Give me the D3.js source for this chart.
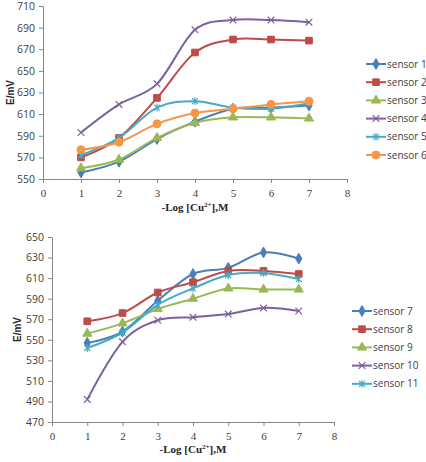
<!DOCTYPE html>
<meta charset="utf-8">
<script src="https://d3js.org/d3.v7.min.js"></script>
<style>
  body { margin: 0; background: #fff; }
  .tick text { fill: #404040; }
</style>
<body>
<div id="chart"></div>
</body>
<script>

  // data
  var xs = [1, 2, 3, 4, 5, 6, 7];

  var topNames = ["sensor 1", "sensor 2", "sensor 3", "sensor 4", "sensor 5", "sensor 6"];
  var sensor1 = [556, 566, 587, 603, 615, 616, 618];
  var sensor2 = [570, 588, 625, 667, 679, 679, 678];
  var sensor3 = [560, 568, 588, 602, 607, 607, 606];
  var sensor4 = [593, 619, 638, 688, 697, 697, 695];
  var sensor5 = [572, 588, 616, 622, 616, 615, 620];
  var sensor6 = [577, 584, 601, 611, 615, 619, 622];

  var bottomNames = ["sensor 7", "sensor 8", "sensor 9", "sensor 10", "sensor 11"];
  var sensor7 = [547, 558, 588, 614, 620, 635, 629];
  var sensor8 = [568, 576, 596, 606, 617, 617, 614];
  var sensor9 = [556, 566, 580, 590, 600, 599, 599];
  var sensor10 = [492, 548, 569, 572, 575, 581, 578];
  var sensor11 = [542, 557, 584, 600, 613, 615, 609];

  var topTicksY = [550, 570, 590, 610, 630, 650, 670, 690, 710];
  var bottomTicksY = [470, 490, 510, 530, 550, 570, 590, 610, 630, 650];
  var ticksX = [0, 1, 2, 3, 4, 5, 6, 7, 8];

  var colors = ["#4A7EBB", "#BE4B48", "#98B954", "#7D60A0", "#46AAC5", "#F79646"];

  // marker shapes, excel style
  var xMark = { draw: function(c, s) { var r = Math.sqrt(s) / 2;
    c.moveTo(-r, -r); c.lineTo(r, r); c.moveTo(r, -r); c.lineTo(-r, r); } };
  var starMark = { draw: function(c, s) { var r = Math.sqrt(s) / 2;
    c.moveTo(-r, -r); c.lineTo(r, r); c.moveTo(r, -r); c.lineTo(-r, r);
    c.moveTo(0, -r * 1.3); c.lineTo(0, r * 1.3); } };
  var shapes = [
    {type: d3.symbolDiamond, size: 34, fill: true},
    {type: d3.symbolSquare, size: 44, fill: true},
    {type: d3.symbolTriangle, size: 36, fill: true},
    {type: xMark, size: 44, fill: false},
    {type: starMark, size: 36, fill: false},
    {type: d3.symbolCircle, size: 50, fill: true}
  ];

  var svg = d3.select("#chart").append("svg")
    .attr("width", 426)
    .attr("height", 462);

  function drawChart(opt) {
    var g = svg.append("g");

    var x = d3.scaleLinear().domain([0, 8]).range([opt.left, opt.right]);
    var y = d3.scaleLinear().domain(d3.extent(opt.ticksY)).range([opt.bottom, opt.top]);

    var ax = g.append("g")
      .attr("transform", `translate(0,${opt.bottom})`)
      .call(d3.axisBottom(x).tickValues(ticksX).tickSize(4).tickSizeOuter(0).tickPadding(6));
    ax.selectAll("text").style("font-family", "Liberation Serif").style("font-size", "11px");

    var ay = g.append("g")
      .attr("transform", `translate(${opt.left},0)`)
      .call(d3.axisLeft(y).tickValues(opt.ticksY).tickSize(4).tickSizeOuter(0).tickPadding(4));
    ay.selectAll("text").style("font-family", "Open Sans").style("font-size", "10.5px");

    g.selectAll(".domain, .tick line").attr("stroke", "#868686");

    g.append("text")
      .attr("transform", `translate(${opt.yTitleX},${(opt.top + opt.bottom) / 2}) rotate(-90)`)
      .attr("text-anchor", "middle")
      .style("font-family", "Liberation Sans").style("font-weight", "bold").style("font-size", "10px")
      .attr("fill", "#262626")
      .text("E/mV");

    var xt = g.append("text")
      .attr("x", opt.xTitleX).attr("y", opt.xTitleY)
      .attr("text-anchor", "middle")
      .style("font-family", "Liberation Serif").style("font-weight", "bold").style("font-size", "11px")
      .attr("fill", "#262626");
    xt.append("tspan").text("-Log [Cu");
    xt.append("tspan").attr("font-size", "7px").attr("dy", -4).text("2+");
    xt.append("tspan").attr("dy", 4).text("],M");

    var line = d3.line()
      .x(function(d, i) { return x(xs[i]); })
      .y(function(d) { return y(d); })
      .curve(d3.curveCardinal.tension(0));

    opt.series.forEach(function(vals, k) {
      var col = colors[k], sh = shapes[k];
      g.append("path")
        .attr("d", line(vals))
        .attr("fill", "none")
        .attr("stroke", col)
        .attr("stroke-width", 2);

      g.selectAll(null)
        .data(vals)
        .join("path")
          .attr("transform", function(d, i) { return `translate(${x(xs[i])},${y(d)})`; })
          .attr("d", d3.symbol().type(sh.type).size(sh.size))
          .attr("fill", sh.fill ? col : "none")
          .attr("stroke", col)
          .attr("stroke-width", sh.fill ? 1 : 1.2);

      // legend
      var ly = opt.legendY + k * 18.2;
      var lg = g.append("g");
      lg.append("line")
        .attr("x1", opt.legendX).attr("x2", opt.legendX + 20)
        .attr("y1", ly).attr("y2", ly)
        .attr("stroke", col).attr("stroke-width", 2);
      lg.append("path")
        .attr("transform", `translate(${opt.legendX + 10},${ly})`)
        .attr("d", d3.symbol().type(sh.type).size(sh.size))
        .attr("fill", sh.fill ? col : "none")
        .attr("stroke", col)
        .attr("stroke-width", sh.fill ? 1 : 1.2);
      lg.append("text")
        .attr("x", opt.legendX + 21).attr("y", ly + 3.5)
        .style("font-family", "Open Sans").style("font-size", "10px")
        .attr("fill", "#404040")
        .text(opt.names[k]);
    });
  }

  drawChart({
    left: 43, right: 347, top: 6, bottom: 179,
    ticksY: topTicksY,
    series: [sensor1, sensor2, sensor3, sensor4, sensor5, sensor6],
    names: topNames,
    yTitleX: 14, xTitleX: 195, xTitleY: 211,
    legendX: 366, legendY: 64
  });

  drawChart({
    left: 52, right: 334, top: 237, bottom: 422,
    ticksY: bottomTicksY,
    series: [sensor7, sensor8, sensor9, sensor10, sensor11],
    names: bottomNames,
    yTitleX: 21, xTitleX: 193, xTitleY: 453,
    legendX: 352, legendY: 311
  });

</script>
